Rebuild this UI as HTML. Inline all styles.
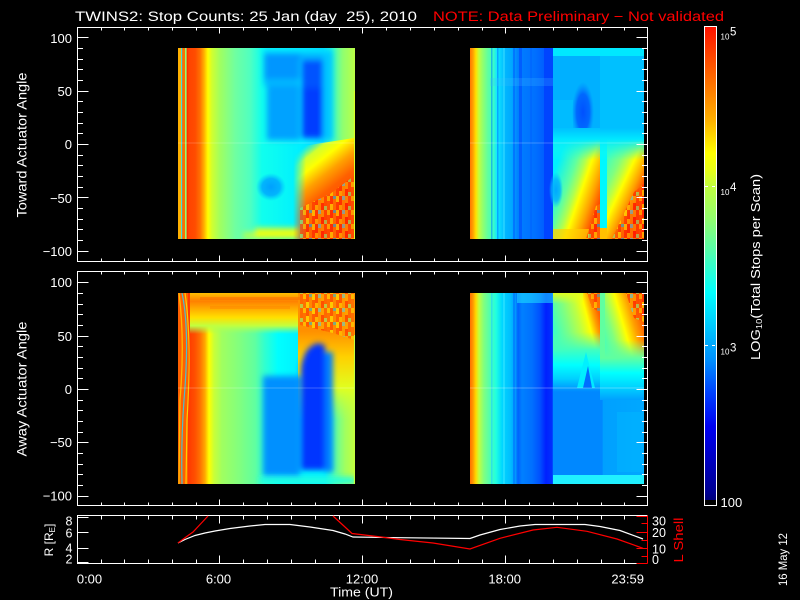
<!DOCTYPE html>
<html><head><meta charset="utf-8"><style>
html,body{margin:0;padding:0;background:#000;}
svg{display:block;}
text{font-family:"Liberation Sans",sans-serif;fill:#fff;}
</style></head><body>
<svg width="800" height="600" viewBox="0 0 800 600" xmlns="http://www.w3.org/2000/svg">
<defs>
<filter id="b2" filterUnits="userSpaceOnUse" x="0" y="0" width="800" height="600"><feGaussianBlur stdDeviation="3"/></filter>
<clipPath id="cTL"><rect x="178" y="48" width="177" height="191"/></clipPath>
<clipPath id="cTR"><rect x="470" y="48" width="174" height="191"/></clipPath>
<clipPath id="cBL"><rect x="178" y="293" width="177" height="191"/></clipPath>
<clipPath id="cBR"><rect x="470" y="293" width="174" height="191"/></clipPath>

<pattern id="nz" patternUnits="userSpaceOnUse" width="24" height="14">
<rect width="24" height="14" fill="#ff6a00"/>
<rect x="0" y="0" width="3" height="6" fill="#ffff00"/><rect x="0" y="6" width="3" height="8" fill="#ff3000"/>
<rect x="3" y="0" width="3" height="9" fill="#ff2000"/><rect x="3" y="9" width="3" height="5" fill="#ffd000"/>
<rect x="6" y="0" width="3" height="4" fill="#40e0ff"/><rect x="6" y="4" width="3" height="10" fill="#ffa000"/>
<rect x="9" y="0" width="3" height="7" fill="#ffb000"/><rect x="9" y="7" width="3" height="7" fill="#ff1000"/>
<rect x="12" y="0" width="3" height="10" fill="#ff4000"/><rect x="12" y="10" width="3" height="4" fill="#80ff80"/>
<rect x="15" y="0" width="3" height="5" fill="#ffe000"/><rect x="15" y="5" width="3" height="9" fill="#ff5000"/>
<rect x="18" y="0" width="3" height="8" fill="#ff2000"/><rect x="18" y="8" width="3" height="6" fill="#ffff00"/>
<rect x="21" y="0" width="3" height="3" fill="#00c0ff"/><rect x="21" y="3" width="3" height="11" fill="#ff8000"/>
</pattern>

<linearGradient id="gCB" gradientUnits="userSpaceOnUse" x1="0" y1="506" x2="0" y2="26">
<stop offset="0" stop-color="#000000"/>
<stop offset="0.012" stop-color="#000000"/>
<stop offset="0.013" stop-color="#00007a"/>
<stop offset="0.027" stop-color="#000090"/>
<stop offset="0.096" stop-color="#0000c0"/>
<stop offset="0.165" stop-color="#0000f0"/>
<stop offset="0.235" stop-color="#0040ff"/>
<stop offset="0.304" stop-color="#0090ff"/>
<stop offset="0.335" stop-color="#00a8ff"/>
<stop offset="0.373" stop-color="#00c8ff"/>
<stop offset="0.444" stop-color="#00ffff"/>
<stop offset="0.5125" stop-color="#40ffc0"/>
<stop offset="0.527" stop-color="#50ffb0"/>
<stop offset="0.596" stop-color="#90ff70"/>
<stop offset="0.665" stop-color="#c0ff40"/>
<stop offset="0.70" stop-color="#e8ff18"/>
<stop offset="0.735" stop-color="#ffff00"/>
<stop offset="0.804" stop-color="#ffb000"/>
<stop offset="0.873" stop-color="#ff7800"/>
<stop offset="0.944" stop-color="#ff4000"/>
<stop offset="1" stop-color="#ff1000"/>
</linearGradient>

<linearGradient id="gTL" gradientUnits="userSpaceOnUse" x1="178" y1="0" x2="354" y2="0">
<stop offset="0.045" stop-color="#ff4000"/>
<stop offset="0.097" stop-color="#ff4c00"/>
<stop offset="0.125" stop-color="#ff7000"/>
<stop offset="0.148" stop-color="#ffb000"/>
<stop offset="0.170" stop-color="#ffff00"/>
<stop offset="0.193" stop-color="#d0ff30"/>
<stop offset="0.239" stop-color="#a0ff60"/>
<stop offset="0.324" stop-color="#70ffa0"/>
<stop offset="0.409" stop-color="#50ffc0"/>
<stop offset="0.477" stop-color="#10ffee"/>
<stop offset="0.693" stop-color="#00f0ff"/>
<stop offset="0.823" stop-color="#00d8ff"/>
<stop offset="0.880" stop-color="#40ffc0"/>
<stop offset="0.937" stop-color="#90ff70"/>
<stop offset="1" stop-color="#b8ff48"/>
</linearGradient>
<linearGradient id="gTLo" gradientUnits="userSpaceOnUse" x1="300" y1="150" x2="343.4" y2="204.6">
<stop offset="0" stop-color="#a0ff60" stop-opacity="0"/>
<stop offset="0.15" stop-color="#d0ff30"/>
<stop offset="0.3" stop-color="#ffff00"/>
<stop offset="0.5" stop-color="#ffa000"/>
<stop offset="0.7" stop-color="#ff6000"/>
<stop offset="1" stop-color="#ff4000"/>
</linearGradient>
<linearGradient id="gFadeL" gradientUnits="userSpaceOnUse" x1="293" y1="0" x2="306" y2="0">
<stop offset="0" stop-color="#000"/>
<stop offset="1" stop-color="#fff"/>
</linearGradient>
<mask id="mTLo" maskUnits="userSpaceOnUse" x="280" y="130" width="90" height="120"><rect x="280" y="130" width="90" height="120" fill="url(#gFadeL)"/></mask>

<linearGradient id="gTR" gradientUnits="userSpaceOnUse" x1="470" y1="0" x2="644" y2="0">
<stop offset="0" stop-color="#ff7800"/>
<stop offset="0.017" stop-color="#ffa000"/>
<stop offset="0.034" stop-color="#ffe000"/>
<stop offset="0.052" stop-color="#c0ff40"/>
<stop offset="0.075" stop-color="#90ff70"/>
<stop offset="0.103" stop-color="#60ffa0"/>
<stop offset="0.132" stop-color="#40ffc0"/>
<stop offset="0.155" stop-color="#10e8ff"/>
<stop offset="0.201" stop-color="#00b8ff"/>
<stop offset="0.241" stop-color="#00a8ff"/>
<stop offset="0.276" stop-color="#0080ff"/>
<stop offset="0.316" stop-color="#0078ff"/>
<stop offset="0.374" stop-color="#0070ff"/>
<stop offset="0.420" stop-color="#0060ff"/>
<stop offset="0.474" stop-color="#0044ff"/>
<stop offset="0.477" stop-color="#00c0ff"/>
<stop offset="1" stop-color="#00c0ff"/>
</linearGradient>
<linearGradient id="gTRd1" gradientUnits="userSpaceOnUse" x1="567.8" y1="132.6" x2="621.6" y2="151.2">
<stop offset="0" stop-color="#00f0ff"/>
<stop offset="0.3" stop-color="#60ffa0"/>
<stop offset="0.45" stop-color="#b0ff50"/>
<stop offset="0.56" stop-color="#ffff00"/>
<stop offset="0.77" stop-color="#ffa000"/>
<stop offset="0.92" stop-color="#ff5000"/>
<stop offset="1" stop-color="#ff3000"/>
</linearGradient>
<linearGradient id="gTRd2" gradientUnits="userSpaceOnUse" x1="593.5" y1="185.9" x2="638.7" y2="207.2">
<stop offset="0" stop-color="#40ffc0"/>
<stop offset="0.25" stop-color="#80ff80"/>
<stop offset="0.4" stop-color="#c0ff40"/>
<stop offset="0.52" stop-color="#ffff00"/>
<stop offset="0.74" stop-color="#ffa000"/>
<stop offset="0.92" stop-color="#ff4000"/>
<stop offset="1" stop-color="#ff3000"/>
</linearGradient>
<linearGradient id="gTRfade" gradientUnits="userSpaceOnUse" x1="0" y1="128" x2="0" y2="160">
<stop offset="0" stop-color="#00c0ff"/>
<stop offset="0.35" stop-color="#00e8ff"/>
<stop offset="1" stop-color="#20ffe0" stop-opacity="0"/>
</linearGradient>
<radialGradient id="rBlue"><stop offset="0" stop-color="#00a8ff"/><stop offset="0.6" stop-color="#00b0ff" stop-opacity="0.8"/><stop offset="1" stop-color="#00c0ff" stop-opacity="0"/></radialGradient>
<radialGradient id="rDeep"><stop offset="0" stop-color="#0050ff"/><stop offset="0.6" stop-color="#0060ff" stop-opacity="0.9"/><stop offset="1" stop-color="#0080ff" stop-opacity="0"/></radialGradient>
<radialGradient id="rLB"><stop offset="0" stop-color="#00a0ff"/><stop offset="0.6" stop-color="#00a8ff" stop-opacity="0.85"/><stop offset="1" stop-color="#00c0ff" stop-opacity="0"/></radialGradient>

<linearGradient id="gBL" gradientUnits="userSpaceOnUse" x1="178" y1="0" x2="354" y2="0">
<stop offset="0.057" stop-color="#ff3800"/>
<stop offset="0.097" stop-color="#ff5000"/>
<stop offset="0.125" stop-color="#ff7000"/>
<stop offset="0.153" stop-color="#ffa800"/>
<stop offset="0.176" stop-color="#ffff00"/>
<stop offset="0.205" stop-color="#c8ff38"/>
<stop offset="0.25" stop-color="#a0ff60"/>
<stop offset="0.352" stop-color="#80ff80"/>
<stop offset="0.4375" stop-color="#60ffa0"/>
<stop offset="0.494" stop-color="#30ffd0"/>
<stop offset="0.568" stop-color="#00ffff"/>
<stop offset="0.693" stop-color="#00f0ff"/>
<stop offset="0.835" stop-color="#00f0ff"/>
<stop offset="0.892" stop-color="#60ffa0"/>
<stop offset="0.949" stop-color="#a0ff60"/>
<stop offset="1" stop-color="#c0ff40"/>
</linearGradient>
<linearGradient id="gBLt" gradientUnits="userSpaceOnUse" x1="0" y1="293" x2="0" y2="334">
<stop offset="0" stop-color="#ffc000"/>
<stop offset="0.2" stop-color="#ff8000"/>
<stop offset="0.4" stop-color="#ffb000"/>
<stop offset="0.6" stop-color="#ffe000"/>
<stop offset="0.8" stop-color="#c0ff40"/>
<stop offset="1" stop-color="#a0ff60" stop-opacity="0"/>
</linearGradient>
<linearGradient id="gBLr" gradientUnits="userSpaceOnUse" x1="0" y1="293" x2="0" y2="420">
<stop offset="0" stop-color="#ff9000"/>
<stop offset="0.3" stop-color="#ff9000"/>
<stop offset="0.5" stop-color="#ffd000"/>
<stop offset="0.75" stop-color="#e0ff20"/>
<stop offset="1" stop-color="#c0ff40" stop-opacity="0"/>
</linearGradient>

<linearGradient id="gBR" gradientUnits="userSpaceOnUse" x1="470" y1="0" x2="644" y2="0">
<stop offset="0" stop-color="#ff7000"/>
<stop offset="0.017" stop-color="#ff9800"/>
<stop offset="0.034" stop-color="#ffd800"/>
<stop offset="0.052" stop-color="#c0ff40"/>
<stop offset="0.080" stop-color="#80ff80"/>
<stop offset="0.115" stop-color="#50ffb0"/>
<stop offset="0.149" stop-color="#20ffe0"/>
<stop offset="0.184" stop-color="#00d8ff"/>
<stop offset="0.230" stop-color="#00c0ff"/>
<stop offset="0.259" stop-color="#00a0ff"/>
<stop offset="0.276" stop-color="#0060ff"/>
<stop offset="0.299" stop-color="#0080ff"/>
<stop offset="0.356" stop-color="#0070ff"/>
<stop offset="0.402" stop-color="#0050ff"/>
<stop offset="0.437" stop-color="#0020ff"/>
<stop offset="0.474" stop-color="#0030ff"/>
<stop offset="0.477" stop-color="#0088ff"/>
<stop offset="0.761" stop-color="#0088ff"/>
<stop offset="0.764" stop-color="#00a0ff"/>
<stop offset="1" stop-color="#00a8ff"/>
</linearGradient>
<linearGradient id="gBRd1" gradientUnits="userSpaceOnUse" x1="555.2" y1="331.9" x2="600.6" y2="319.9">
<stop offset="0" stop-color="#40ffc0"/>
<stop offset="0.3" stop-color="#80ff80"/>
<stop offset="0.55" stop-color="#c0ff40"/>
<stop offset="0.74" stop-color="#ffff00"/>
<stop offset="0.88" stop-color="#ffa000"/>
<stop offset="1" stop-color="#ff6000"/>
</linearGradient>
<linearGradient id="gBRd2" gradientUnits="userSpaceOnUse" x1="598" y1="327" x2="643.1" y2="313.8">
<stop offset="0" stop-color="#40ffc0"/>
<stop offset="0.25" stop-color="#80ff80"/>
<stop offset="0.4" stop-color="#c0ff40"/>
<stop offset="0.53" stop-color="#ffff00"/>
<stop offset="0.75" stop-color="#ffa000"/>
<stop offset="1" stop-color="#ff5000"/>
</linearGradient>
<linearGradient id="gBRf1" gradientUnits="userSpaceOnUse" x1="0" y1="332" x2="0" y2="392">
<stop offset="0" stop-color="#60ffa0" stop-opacity="0"/>
<stop offset="0.3" stop-color="#40ffc0"/>
<stop offset="0.55" stop-color="#00ffff"/>
<stop offset="0.78" stop-color="#00d0ff"/>
<stop offset="1" stop-color="#0088ff"/>
</linearGradient>
<linearGradient id="gBRf2" gradientUnits="userSpaceOnUse" x1="0" y1="340" x2="0" y2="400">
<stop offset="0" stop-color="#60ffa0" stop-opacity="0"/>
<stop offset="0.3" stop-color="#60ffa0"/>
<stop offset="0.55" stop-color="#00ffff"/>
<stop offset="0.8" stop-color="#00d0ff"/>
<stop offset="1" stop-color="#00a0ff"/>
</linearGradient>
<linearGradient id="gBRtop" gradientUnits="userSpaceOnUse" x1="0" y1="293" x2="0" y2="304">
<stop offset="0" stop-color="#e0ff20"/>
<stop offset="1" stop-color="#e0ff20" stop-opacity="0"/>
</linearGradient>

<path id="xtp" d="M101.5 0v3M124.5 0v3M148.5 0v3M172.5 0v3M196.5 0v3M219.5 0v6M243.5 0v3M267.5 0v3M291.5 0v3M315.5 0v3M339.5 0v3M362.5 0v6M386.5 0v3M410.5 0v3M434.5 0v3M458.5 0v3M482.5 0v3M505.5 0v6M529.5 0v3M553.5 0v3M577.5 0v3M601.5 0v3M624.5 0v3"/>
<path id="ytp" d="M77.5 37.5h11M77.5 48.5h5.5M77.5 59.5h5.5M77.5 69.5h5.5M77.5 80.5h5.5M77.5 91.5h11M77.5 101.5h5.5M77.5 112.5h5.5M77.5 123.5h5.5M77.5 133.5h5.5M77.5 144.5h11M77.5 155.5h5.5M77.5 165.5h5.5M77.5 176.5h5.5M77.5 187.5h5.5M77.5 197.5h11M77.5 208.5h5.5M77.5 219.5h5.5M77.5 229.5h5.5M77.5 240.5h5.5M77.5 251.5h11"/>
</defs>

<rect width="800" height="600" fill="#000"/>

<!-- ===== Top-left heatmap ===== -->
<g clip-path="url(#cTL)">
<rect x="178" y="48" width="177" height="191" fill="url(#gTL)"/>
<g filter="url(#b2)">
<rect x="264" y="53" width="36" height="26" fill="#0096ff"/>
<rect x="264" y="79" width="36" height="7" fill="#00b8ff"/>
<rect x="267" y="86" width="33" height="54" fill="#00a2ff"/>
<rect x="263" y="48" width="70" height="5" fill="#00e4ff"/>
<rect x="300" y="53" width="24" height="7" fill="#00b0ff"/>
<rect x="302" y="60" width="22" height="28" fill="#0052ff"/>
<rect x="302" y="88" width="21" height="50" fill="#003eff"/>
<rect x="323" y="52" width="10" height="88" fill="#00c8ff"/>
<rect x="255" y="228" width="45" height="11" fill="#e8ff18"/>
<rect x="243" y="232" width="12" height="7" fill="#b0ff50"/>
</g>
<ellipse cx="271" cy="187" rx="15" ry="14" fill="url(#rLB)"/>
<polygon points="290,148 354,138 354,239 290,239" fill="url(#gTLo)" mask="url(#mTLo)"/>
<polygon points="300,208 330,194 354,176 354,239 300,239" fill="url(#nz)" opacity="0.55"/>
<rect x="178" y="48" width="3" height="191" fill="#ffb000"/>
<rect x="181" y="48" width="1.3" height="191" fill="#40e0e0"/>
<rect x="182.3" y="48" width="2.7" height="191" fill="#ff7000"/>
<rect x="185" y="48" width="1.7" height="191" fill="#90ff70"/>
<rect x="186.7" y="48" width="1.5" height="191" fill="#ff3000"/>
<rect x="178" y="142" width="177" height="2" fill="#ffffff" opacity="0.1"/>
<rect x="354" y="91" width="1.5" height="148" fill="#d8ff28"/>
</g>

<!-- ===== Top-right heatmap ===== -->
<g clip-path="url(#cTR)">
<rect x="470" y="48" width="174" height="191" fill="url(#gTR)"/>
<rect x="491" y="48" width="1.5" height="191" fill="#0090ff" opacity="0.6"/>
<rect x="497" y="48" width="1.5" height="191" fill="#0080ff" opacity="0.6"/>
<rect x="503" y="48" width="2" height="191" fill="#40e0ff" opacity="0.5"/>
<rect x="513" y="48" width="2" height="191" fill="#0060ff" opacity="0.6"/>
<rect x="519" y="48" width="3" height="191" fill="#0050ff" opacity="0.7"/>
<rect x="530" y="48" width="2" height="191" fill="#0060ff" opacity="0.5"/>
<rect x="544" y="48" width="9" height="191" fill="#0044ff"/>
<rect x="490" y="78" width="63" height="8" fill="#40c0ff" opacity="0.22"/>
<rect x="553" y="48" width="91" height="8" fill="#00e8ff"/>
<rect x="553" y="56" width="47" height="84" fill="#00b0ff"/>
<rect x="553" y="100" width="20" height="40" fill="#00c8ff" opacity="0.5"/>
<rect x="600" y="56" width="44" height="84" fill="#00c0ff"/>
<ellipse cx="583" cy="112" rx="11" ry="30" fill="url(#rDeep)"/>
<rect x="553" y="136" width="47" height="103" fill="url(#gTRd1)"/>
<rect x="607" y="136" width="37" height="103" fill="url(#gTRd2)"/>
<rect x="600" y="136" width="7" height="92" fill="#00f8ff"/>
<rect x="600" y="228" width="7" height="11" fill="#ffc000"/>
<rect x="553" y="128" width="91" height="32" fill="url(#gTRfade)"/>
<ellipse cx="556" cy="190" rx="7" ry="18" fill="url(#rBlue)"/>
<rect x="553" y="229" width="36" height="10" fill="#ffd000" opacity="0.7"/>
<polygon points="586,239 596,206 600,204 600,239" fill="url(#nz)" opacity="0.55"/>
<polygon points="612,239 634,192 644,184 644,239" fill="url(#nz)" opacity="0.55"/>
<rect x="470" y="142" width="174" height="2" fill="#ffffff" opacity="0.12"/>
</g>

<!-- ===== Bottom-left heatmap ===== -->
<g clip-path="url(#cBL)">
<rect x="178" y="293" width="177" height="191" fill="url(#gBL)"/>
<rect x="190" y="293" width="110" height="41" fill="url(#gBLt)"/>
<rect x="298" y="293" width="57" height="127" fill="url(#gBLr)"/>
<g filter="url(#b2)">
<rect x="263" y="376" width="37" height="100" fill="#0090ff"/>
<path d="M301,470 L301,368 Q304,346 318,343 L325,345 L325,470 Z" fill="#0034ff"/>
<rect x="325" y="352" width="8" height="120" fill="#0080ff"/>
<rect x="260" y="477" width="95" height="7" fill="#20ffe0"/>
</g>
<polygon points="300,293 354,293 354,340 333,333 300,325" fill="url(#nz)" opacity="0.5"/>
<rect x="200" y="297" width="100" height="3" fill="#ff6000" opacity="0.4"/>
<rect x="210" y="306" width="80" height="3" fill="#ff8000" opacity="0.4"/>
<rect x="178" y="293" width="10" height="191" fill="#ff6000"/>
<path d="M179,293 Q185,340 180,400 L179,484" stroke="#ffd000" stroke-width="1.3" fill="none" opacity="0.8"/>
<path d="M182,293 Q190,330 184,400 Q181,440 182,484" stroke="#20d8ff" stroke-width="1.2" fill="none" opacity="0.8"/>
<path d="M185,293 Q192,340 187,420 L186,484" stroke="#ffff00" stroke-width="1.2" fill="none" opacity="0.7"/>
<rect x="178" y="387" width="177" height="2" fill="#ffffff" opacity="0.12"/>
<rect x="354" y="335" width="1.5" height="149" fill="#c0ff40"/>
</g>

<!-- ===== Bottom-right heatmap ===== -->
<g clip-path="url(#cBR)">
<rect x="470" y="293" width="174" height="191" fill="url(#gBR)"/>
<rect x="491" y="293" width="1.5" height="191" fill="#20d0ff" opacity="0.6"/>
<rect x="503" y="293" width="2" height="191" fill="#40e8ff" opacity="0.5"/>
<rect x="513" y="293" width="2" height="191" fill="#0070ff" opacity="0.6"/>
<rect x="517" y="293" width="36" height="10" fill="#20f0ff" opacity="0.5"/>
<rect x="617" y="412" width="27" height="60" fill="#00c0ff" opacity="0.35"/>
<rect x="553" y="475" width="91" height="9" fill="#20f0ff"/>
<rect x="553" y="293" width="47" height="60" fill="url(#gBRd1)"/>
<rect x="605" y="293" width="39" height="70" fill="url(#gBRd2)"/>
<rect x="600" y="293" width="5" height="70" fill="#60ffa0"/>
<rect x="553" y="293" width="30" height="11" fill="url(#gBRtop)"/>
<rect x="553" y="332" width="47" height="60" fill="url(#gBRf1)"/>
<rect x="600" y="340" width="44" height="60" fill="url(#gBRf2)"/>
<polygon points="577,388 586,352 595,388" fill="#00f0ff" opacity="0.9"/>
<polygon points="583,388 588,366 592,388" fill="#0060ff" opacity="0.9"/>
<polygon points="626,293 644,293 644,322 634,318" fill="url(#nz)" opacity="0.55"/>
<polygon points="587,293 600,293 600,312 592,308" fill="url(#nz)" opacity="0.45"/>
<rect x="470" y="387" width="174" height="2" fill="#ffffff" opacity="0.15"/>
</g>

<!-- ===== Axes frames ===== -->
<g stroke="#fff" stroke-width="1" fill="none" shape-rendering="crispEdges">
<rect x="77.5" y="27.5" width="570" height="234"/>
<rect x="77.5" y="271.5" width="570" height="234"/>
<path d="M647.5 515.5H77.5V563.5H647.5"/>
<use href="#xtp" transform="translate(0,27.5)"/>
<use href="#xtp" transform="translate(0,261.5) scale(1,-1)"/>
<use href="#xtp" transform="translate(0,271.5)"/>
<use href="#xtp" transform="translate(0,505.5) scale(1,-1)"/>
<use href="#xtp" transform="translate(0,515.5) scale(1,1.35)"/>
<use href="#xtp" transform="translate(0,563.5) scale(1,-1.35)"/>
<use href="#ytp"/>
<use href="#ytp" transform="translate(725,0) scale(-1,1)"/>
<use href="#ytp" transform="translate(0,245)"/>
<use href="#ytp" transform="translate(725,245) scale(-1,1)"/>
<path d="M77.5 517.5h11M77.5 532.5h11M77.5 548.5h11M77.5 562.5h11"/>
</g>
<g stroke="#ff0000" stroke-width="1" fill="none" shape-rendering="crispEdges">
<path d="M647.5 515.5V563.5"/>
<path d="M647.5 516.5h-11M647.5 523.5h-6M647.5 532.5h-11M647.5 540.5h-6M647.5 548.5h-11M647.5 556.5h-6M647.5 563.5h-11"/>
</g>

<!-- ===== Strip lines ===== -->
<path d="M178,543 L185,539.5 L195,535.5 L205,533 L215,531 L230,528.5 L250,526 L265,524.5 L290,524.5 L310,527 L333,530.5 L345,534 L353,537 L400,537.7 L470,538.5 L480,535 L500,529.5 L520,526 L535,524.5 L585,524.5 L600,526.5 L620,530.5 L643,539" stroke="#fff" stroke-width="1.2" fill="none"/>
<path d="M178,543 L186,537 L193,532 L208,516 M333,516 L345,527 L352,533.5 L377,536.5 L400,539.5 L433,543 L470,549 L500,538.3 L533,530 L557,527.3 L587,531.3 L617,539 L643,548.3" stroke="#ff0000" stroke-width="1.2" fill="none"/>

<!-- ===== Colorbar ===== -->
<rect x="705" y="27" width="11" height="478" fill="url(#gCB)"/>
<rect x="704.5" y="26.5" width="12" height="479" fill="none" stroke="#fff" stroke-width="1" shape-rendering="crispEdges"/>
<g stroke="#fff" stroke-width="1" shape-rendering="crispEdges">
<path d="M705 186.5h3M712 186.5h3M705 345.5h3M712 345.5h3"/>
</g>

<!-- ===== Text ===== -->
<text x="75" y="21" font-size="13.5" textLength="342" lengthAdjust="spacingAndGlyphs" style="white-space:pre">TWINS2: Stop Counts: 25 Jan (day  25), 2010</text>
<text x="433" y="21" font-size="13.5" textLength="291" lengthAdjust="spacingAndGlyphs" style="fill:#ff0000">NOTE: Data Preliminary − Not validated</text>

<g font-size="13" text-anchor="end">
<text x="72" y="43">100</text>
<text x="72" y="96">50</text>
<text x="72" y="149">0</text>
<text x="72" y="203">−50</text>
<text x="72" y="256">−100</text>
<text x="72" y="287">100</text>
<text x="72" y="341">50</text>
<text x="72" y="394">0</text>
<text x="72" y="447">−50</text>
<text x="72" y="500.5">−100</text>
</g>
<g font-size="12.5" text-anchor="end">
<text x="72.5" y="525.5">8</text>
<text x="72.5" y="537.5">6</text>
<text x="72.5" y="552.5">4</text>
<text x="72.5" y="563.5">2</text>
</g>
<g font-size="12.5" style="fill:#ff0000">
<text x="652" y="525.5">30</text>
<text x="652" y="537">20</text>
<text x="652" y="553.5">10</text>
<text x="652" y="564">0</text>
</g>

<g font-size="13" text-anchor="middle">
<text x="89.5" y="583.5">0:00</text>
<text x="218.5" y="583.5">6:00</text>
<text x="362" y="583.5">12:00</text>
<text x="504.7" y="583.5">18:00</text>
<text x="627.7" y="583.5">23:59</text>
<text x="361.5" y="596.5" textLength="63" lengthAdjust="spacingAndGlyphs">Time (UT)</text>
</g>

<text transform="translate(26.5,145) rotate(-90)" font-size="14" text-anchor="middle" textLength="145" lengthAdjust="spacingAndGlyphs">Toward Actuator Angle</text>
<text transform="translate(26.5,389) rotate(-90)" font-size="14" text-anchor="middle" textLength="135" lengthAdjust="spacingAndGlyphs">Away Actuator Angle</text>
<text transform="translate(53,540) rotate(-90)" font-size="12" text-anchor="middle">R [R<tspan font-size="8" dy="2">E</tspan><tspan dy="-2">]</tspan></text>
<text transform="translate(683,540) rotate(-90)" font-size="12.5" text-anchor="middle" textLength="45" lengthAdjust="spacingAndGlyphs" style="fill:#ff0000">L Shell</text>
<text transform="translate(787,559.5) rotate(-90)" font-size="11.5" text-anchor="middle" textLength="53" lengthAdjust="spacingAndGlyphs">16 May 12</text>

<text transform="translate(760,267) rotate(-90)" font-size="12.5" text-anchor="middle" textLength="186" lengthAdjust="spacingAndGlyphs">LOG<tspan font-size="8" dy="2">10</tspan><tspan dy="-2">(Total Stops per Scan)</tspan></text>

<text x="720.5" y="39.5" font-size="8">10</text>
<text x="730" y="35.5" font-size="11.5">5</text>
<text x="720.5" y="195" font-size="8">10</text>
<text x="730" y="191" font-size="11.5">4</text>
<text x="720.5" y="354.5" font-size="8">10</text>
<text x="730" y="351.5" font-size="11.5">3</text>
<text x="720.5" y="507" font-size="13">100</text>
</svg>
</body></html>
